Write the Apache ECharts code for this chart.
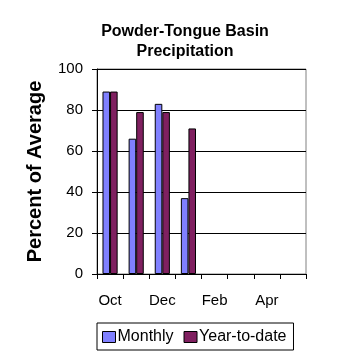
<!DOCTYPE html>
<html>
<head>
<meta charset="utf-8">
<script src="https://cdn.jsdelivr.net/npm/echarts@6/dist/echarts.min.js"></script>
<style>html,body{margin:0;padding:0;background:#fff;}#c{width:358px;height:358px;}</style>
</head>
<body>
<div id="c"></div>
<script>
const categories = ['Oct','Nov','Dec','Jan','Feb','Mar','Apr','May'];
const monthly = [89, 66, 83, 37, null, null, null, null];
const yearToDate = [89, 79, 79, 71, null, null, null, null];
const yTicks = [0, 20, 40, 60, 80, 100];

const chart = echarts.init(document.getElementById('c'));
const font = 'Liberation Sans, Arial, sans-serif';
chart.setOption({
  animation: false,
  backgroundColor: '#fff',
  title: {
    text: 'Powder-Tongue Basin\nPrecipitation',
    left: 180, top: 17, textAlign: 'center',
    textStyle: {fontFamily: font, fontSize: 16, fontWeight: 'bold', color: '#000', lineHeight: 20}
  },
  legend: {
    left: 97, top: 323,
    padding: [6, 7, 5, 5],
    borderColor: '#000', borderWidth: 1,
    itemWidth: 13, itemHeight: 11, itemGap: 10,
    icon: 'rect',
    textStyle: {fontFamily: font, fontSize: 16, color: '#000', padding: [0, 0, 0, -3]},
    itemStyle: {borderColor: '#000', borderWidth: 1},
    data: ['Monthly', 'Year-to-date']
  },
  grid: {left: 97, right: 52, top: 69, bottom: 84, show: true, borderColor: '#808080', borderWidth: 1},
  xAxis: {
    type: 'category', data: categories, boundaryGap: true,
    axisLine: {lineStyle: {color: '#000', width: 1}},
    axisTick: {show: true, interval: 0, length: 5, lineStyle: {color: '#000'}},
    axisLabel: {interval: 1, fontFamily: font, fontSize: 15, color: '#000', margin: 19}
  },
  yAxis: {
    type: 'value', min: yTicks[0], max: yTicks[yTicks.length - 1], interval: 20,
    name: 'Percent of Average', nameLocation: 'middle', nameGap: 52, nameRotate: 90,
    nameTextStyle: {fontFamily: font, fontSize: 20, fontWeight: 'bold', color: '#000'},
    axisLine: {show: true, lineStyle: {color: '#000', width: 1}},
    axisTick: {show: true, length: 5, lineStyle: {color: '#000'}},
    axisLabel: {fontFamily: font, fontSize: 15, color: '#000', margin: 14},
    splitLine: {show: true, lineStyle: {color: '#000', width: 1}}
  },
  series: [
    {name: 'Monthly', type: 'bar', data: monthly, barGap: '0%', barCategoryGap: '42%',
     itemStyle: {color: '#8080FF', borderColor: '#000', borderWidth: 1}},
    {name: 'Year-to-date', type: 'bar', data: yearToDate,
     itemStyle: {color: '#802060', borderColor: '#000', borderWidth: 1}}
  ]
});
</script>
</body>
</html>
